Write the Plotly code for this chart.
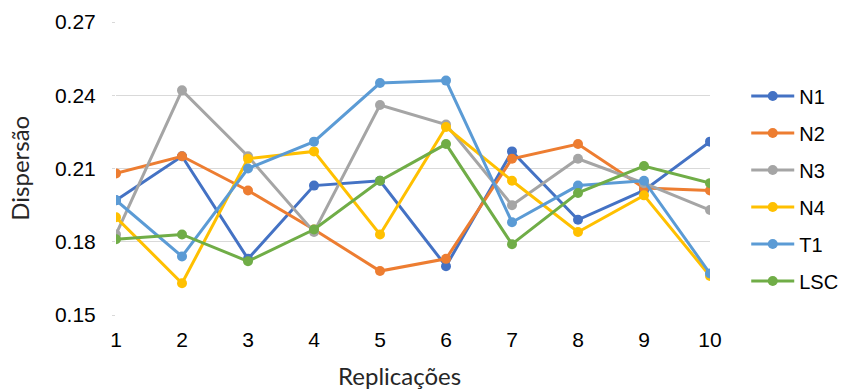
import plotly.graph_objects as go

replicacoes = [1, 2, 3, 4, 5, 6, 7, 8, 9, 10]
n1 = [0.197, 0.215, 0.173, 0.203, 0.205, 0.170, 0.217, 0.189, 0.201, 0.221]
n2 = [0.208, 0.215, 0.201, 0.185, 0.168, 0.173, 0.214, 0.220, 0.202, 0.201]
n3 = [0.183, 0.242, 0.215, 0.184, 0.236, 0.228, 0.195, 0.214, 0.204, 0.193]
n4 = [0.190, 0.163, 0.214, 0.217, 0.183, 0.227, 0.205, 0.184, 0.199, 0.166]
t1 = [0.197, 0.174, 0.210, 0.221, 0.245, 0.246, 0.188, 0.203, 0.205, 0.167]
lsc = [0.181, 0.183, 0.172, 0.185, 0.205, 0.220, 0.179, 0.200, 0.211, 0.204]
y_ticks = [0.15, 0.18, 0.21, 0.24, 0.27]

series = [
    ("N1", n1, "#4472C4"),
    ("N2", n2, "#ED7D31"),
    ("N3", n3, "#A5A5A5"),
    ("N4", n4, "#FFC000"),
    ("T1", t1, "#5B9BD5"),
    ("LSC", lsc, "#70AD47"),
]

fig = go.Figure()
for name, vals, color in series:
    fig.add_trace(go.Scatter(
        x=replicacoes, y=vals, name=name, legendgroup=name,
        mode="lines+markers",
        line=dict(color=color, width=3),
        marker=dict(color=color, size=10),
    ))

tick_font = dict(family="Liberation Sans, Arial, sans-serif", size=21, color="#000000")
title_font = dict(family="Lato, Open Sans, sans-serif", size=24, color="#262626")

fig.update_layout(
    width=843, height=390,
    margin=dict(l=116, r=133, t=22, b=75, autoexpand=False),
    paper_bgcolor="white", plot_bgcolor="white",
    showlegend=True,
    legend=dict(
        x=1.061, xanchor="left", y=0.432, yanchor="middle",
        font=dict(family="Liberation Sans, Arial, sans-serif", size=20, color="#000000"),
        tracegroupgap=8, itemwidth=43, bgcolor="rgba(0,0,0,0)",
    ),
    xaxis=dict(
        range=[1, 10], tickvals=replicacoes, ticktext=[str(v) for v in replicacoes],
        showgrid=False, zeroline=False, showline=False,
        ticks="", tickfont=tick_font, ticklabelstandoff=10,
    ),
    yaxis=dict(
        range=[0.15, 0.27], tickvals=y_ticks, ticktext=[f"{v:.2f}" for v in y_ticks],
        showgrid=True, gridcolor="#D9D9D9", gridwidth=1,
        zeroline=False, showline=False,
        ticks="outside", ticklen=3, tickcolor="#D9D9D9",
        tickfont=tick_font, ticklabelstandoff=12,
    ),
    annotations=[
        dict(text="Replicações", xref="paper", yref="paper", x=0.478, y=-0.205,
             xanchor="center", yanchor="middle", showarrow=False, font=title_font),
        dict(text="Dispersão", xref="paper", yref="paper", x=-0.163, y=0.5,
             xanchor="center", yanchor="middle", textangle=-90, showarrow=False,
             font=title_font),
    ],
)

fig.write_html("out.html")
